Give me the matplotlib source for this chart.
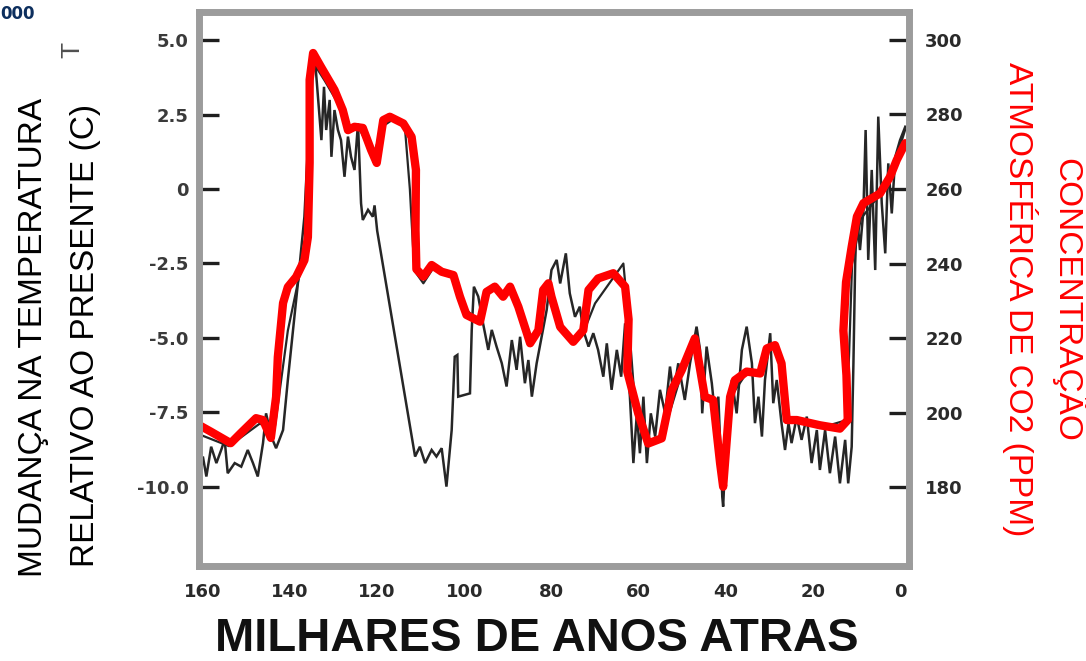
import matplotlib
matplotlib.use('Agg')
import matplotlib.pyplot as plt
from matplotlib import font_manager

# Vostok-style record: temperature (black) and CO2 (red), ages in thousands of years
temp_age = [160.6, 160.0, 159.2, 158.1, 156.9, 155.8, 155.0, 154.3, 152.7, 151.2,
            149.7, 148.5, 147.4, 146.2, 145.5, 144.3, 143.2, 141.6, 140.5, 139.3,
            138.2, 136.7, 135.9, 134.7, 134.2, 133.6, 132.8, 132.2, 131.7, 130.9,
            130.5, 129.8, 129.0, 128.3, 127.5, 126.7, 126.0, 125.2, 124.4, 123.7,
            123.3, 122.1, 121.0, 120.6, 120.0, 111.3, 110.2, 109.0, 107.5, 106.4,
            105.2, 104.1, 102.9, 102.2, 101.6, 101.4, 98.7, 98.3, 97.8, 96.8,
            95.7, 94.5, 93.7, 92.6, 91.4, 90.3, 89.1, 88.0, 87.2, 86.1,
            85.3, 84.5, 83.4, 81.1, 80.0, 78.8, 78.0, 76.7, 75.8, 74.6,
            73.5, 72.7, 71.5, 70.4, 69.3, 68.1, 67.3, 66.2, 65.0, 64.0,
            63.1, 62.0, 61.2, 60.4, 59.7, 58.9, 58.1, 57.2, 56.2, 55.1,
            53.9, 52.8, 52.0, 50.9, 49.4, 48.2, 46.7, 45.9, 45.4, 44.4,
            43.2, 42.5, 41.7, 40.8, 40.6, 39.8, 38.6, 37.5, 36.3, 35.2,
            34.0, 33.3, 32.5, 31.7, 31.0, 29.8, 29.1, 28.3, 27.2, 26.4,
            25.6, 24.9, 23.7, 22.6, 21.4, 20.3, 19.1, 18.4, 17.2, 16.1,
            14.9, 13.8, 12.6, 11.9, 11.1, 10.7, 10.3, 9.9, 9.2, 8.4,
            7.9, 7.3, 6.5, 5.7, 5.0, 4.2, 3.4, 2.7, 1.9, 1.1,
            0.0, -1.2]
temp_val = [-9.4, -8.98, -9.65, -8.65, -9.2, -8.76, -8.42, -9.54, -9.2, -9.32,
            -8.76, -9.2, -9.65, -8.53, -7.53, -8.31, -8.7, -8.09, -6.41, -4.73,
            -3.17, -0.93, 1.42, 4.1, 4.22, 3.1, 1.64, 3.43, 1.98, 2.99,
            1.08, 2.65, 1.98, 1.64, 0.41, 1.76, 1.08, 0.64, 2.2, -0.48,
            -1.04, -0.7, -0.93, -0.55, -1.4, -8.98, -8.65, -9.2, -8.76, -8.98,
            -8.7, -9.99, -8.09, -5.63, -5.57, -6.97, -6.86, -4.73, -3.28, -3.61,
            -4.51, -5.4, -4.73, -5.29, -5.85, -6.63, -5.07, -6.07, -4.96, -6.52,
            -5.74, -6.97, -5.85, -4.06, -2.72, -2.38, -3.17, -2.16, -3.5, -4.29,
            -3.95, -4.73, -5.29, -4.84, -5.4, -6.3, -5.18, -6.74, -5.4, -6.3,
            -4.51, -6.97, -9.2, -7.53, -8.87, -6.97, -9.2, -7.53, -8.31, -6.74,
            -7.53, -5.96, -6.86, -5.85, -7.08, -5.85, -4.62, -5.4, -7.53, -5.29,
            -6.52, -7.53, -6.97, -10.33, -10.66, -8.09, -6.41, -7.53, -5.4, -4.62,
            -5.85, -7.86, -6.97, -8.31, -6.41, -4.84, -7.19, -6.41, -7.86, -8.76,
            -7.86, -8.53, -7.64, -8.42, -7.64, -9.2, -8.09, -9.43, -8.09, -9.54,
            -8.31, -9.88, -8.42, -9.88, -8.65, -5.85, -2.49, -0.82, -2.05, -0.7,
            1.98, -2.38, 0.64, -2.72, 2.43, -0.48, -2.16, 0.86, -0.82, 1.08,
            1.64, 2.09]

# original thin CO2 trace (mostly hidden under the red one)
trace_age = [160.5, 154.0, 147.0, 143.5, 140.5, 138.0, 136.5, 135.6, 134.7, 132.0,
             129.0, 127.0, 124.0, 121.0, 118.5, 116.0, 113.6, 112.5, 111.8, 111.4,
             109.4, 107.0, 104.0, 102.0, 100.0, 97.0, 95.0, 93.0, 91.0, 89.5,
             87.5, 85.0, 83.0, 81.8, 80.5, 78.0, 75.0, 72.5, 70.0, 63.5,
             62.3, 61.0, 58.0, 54.7, 50.0, 47.1, 44.8, 42.9, 40.6, 39.0,
             35.0, 32.0, 30.6, 28.7, 27.2, 26.0, 18.0, 12.2, 11.0, 9.0,
             5.0, 2.0, -1.2]
trace_val = [194, 191, 197, 196, 222, 236, 244, 286, 294, 289,
             283, 277, 276, 269, 277, 279, 276, 260, 245, 238,
             234.7, 239, 238, 236, 228, 225, 231, 234, 231, 234,
             229, 220, 222, 232, 234, 223, 219, 222, 229.3, 240,
             225, 205, 192, 193, 211, 219, 204, 203, 181, 204,
             211, 210, 217, 218, 213, 198, 196, 198, 240, 252,
             258, 264, 276]

co2_age = [160.8, 158.2, 153.6, 151.3, 147.8, 146.2, 144.4, 143.2, 142.8, 141.6,
           140.5, 138.6, 136.7, 135.9, 135.5, 135.5, 134.7, 132.9, 129.8, 127.9,
           126.7, 125.2, 123.3, 121.4, 120.1, 118.6, 117.1, 114.0, 112.1, 111.1,
           111.2, 111.0, 109.4, 107.5, 105.2, 102.5, 101.0, 99.5, 96.4, 94.9,
           93.0, 91.1, 89.5, 87.6, 84.9, 83.0, 81.9, 80.7, 80.0, 78.0,
           75.0, 72.7, 71.5, 69.3, 65.8, 63.1, 62.3, 62.6, 60.1, 57.8,
           54.7, 52.4, 50.1, 47.1, 44.8, 42.9, 41.3, 40.6, 39.0, 37.9,
           35.2, 32.1, 30.6, 28.7, 27.2, 26.0, 23.7, 18.4, 13.8, 12.0,
           12.3, 13.0, 12.4, 11.1, 9.9, 8.4, 4.6, 2.3, 0.75, -1.2]
co2_val = [196.6, 194.9, 191.8, 194.5, 198.5, 198.0, 193.2, 204.2, 214.9, 229.4,
           233.7, 236.4, 240.9, 247.1, 267.0, 289.3, 296.5, 292.8, 286.6, 281.2,
           275.8, 276.7, 276.4, 270.5, 267.0, 278.5, 279.4, 277.6, 274.0, 265.1,
           249.0, 238.5, 236.5, 239.6, 237.8, 236.9, 231.1, 226.2, 224.4, 232.4,
           233.8, 231.1, 233.8, 228.4, 218.6, 222.1, 232.9, 234.7, 231.1, 223.0,
           219.0, 222.1, 232.9, 236.0, 237.4, 233.8, 225.0, 211.0, 199.8, 191.7,
           193.1, 206.0, 211.4, 219.9, 204.2, 203.4, 186.4, 180.1, 204.2, 208.7,
           211.0, 210.5, 217.2, 218.1, 213.2, 198.0, 198.0, 196.6, 195.7, 198.0,
           210.0, 222.0, 235.0, 244.5, 252.6, 256.2, 258.8, 263.3, 267.8, 272.3]

x_ticks = [160, 140, 120, 100, 80, 60, 40, 20, 0]
t_ticks = [5.0, 2.5, 0, -2.5, -5.0, -7.5, -10.0]
t_labels = ['5.0', '2.5', '0', '-2.5', '-5.0', '-7.5', '-10.0']
c_ticks = [300, 280, 260, 240, 220, 200, 180]

names = {f.name for f in font_manager.fontManager.ttflist}
if 'Liberation Sans Narrow' in names:
    lab_font, lab_size = 'Liberation Sans Narrow', 29
else:
    lab_font, lab_size = 'Liberation Sans', 24

fig = plt.figure(figsize=(10.86, 6.61), dpi=100)
ax = fig.add_axes([0.1828, 0.1430, 0.6538, 0.8388])
ax2 = ax.twinx()

ax.plot(temp_age, temp_val, color='#262626', lw=1.8, solid_joinstyle='miter')
ax2.plot(trace_age, trace_val, color='#262626', lw=1.6)
ax2.plot(co2_age, co2_val, color='#ff0000', lw=6, solid_capstyle='round',
         solid_joinstyle='round')

ax.set_xlim(161.0, -1.95)
ax.set_ylim(-12.67, 5.94)
ax2.set_ylim(158.7, 307.5)

tick_font = dict(family='DejaVu Sans', weight='bold', size=13)
ax.set_xticks(x_ticks)
ax.set_xticklabels([str(v) for v in x_ticks], color='#2a2a2a', **tick_font)
ax.tick_params(axis='x', length=0, pad=12)
ax.set_yticks(t_ticks)
ax.set_yticklabels(t_labels, color='#3a3a3a', **tick_font)
ax.tick_params(axis='y', direction='in', length=14.4, width=2.4, color='#1e1e1e', pad=7)
ax2.set_yticks(c_ticks)
ax2.set_yticklabels([str(v) for v in c_ticks], color='#2a2a2a', **tick_font)
ax2.tick_params(axis='y', direction='in', length=14.4, width=2.4, color='#1e1e1e', pad=12)

for s in ax.spines.values():
    s.set_visible(False)
for s in ax2.spines.values():
    s.set_color('#9c9c9c')
    s.set_linewidth(5)

# axis titles
fig.text(34 / 1086, 1 - 337 / 661, 'MUDANÇA NA TEMPERATURA', rotation=90,
         ha='center', va='center', family=lab_font, size=lab_size, color='black')
fig.text(86 / 1086, 1 - 335 / 661, 'RELATIVO AO PRESENTE (C)', rotation=90,
         ha='center', va='center', family=lab_font, size=lab_size, color='black')
fig.text(1068 / 1086, 1 - 300 / 661, 'CONCENTRAÇÃO', rotation=270,
         ha='center', va='center', family=lab_font, size=lab_size, color='#ff0000')
fig.text(1020 / 1086, 1 - 299 / 661, 'ATMOSFÉRICA DE CO2 (PPM)', rotation=270,
         ha='center', va='center', family=lab_font, size=lab_size, color='#ff0000')
fig.text(537 / 1086, 10 / 661, 'MILHARES DE ANOS ATRAS', ha='center', va='baseline',
         family='Liberation Sans', weight='bold', size=34, color='#111111')

# leftovers from the source image
fig.text(0, 1 - 14 / 661, '000', ha='left', va='center',
         family='DejaVu Sans', weight='bold', size=12, color='#0d2f5e')
fig.text(72 / 1086, 1 - 50 / 661, 'T', rotation=90, ha='center', va='center',
         family='Liberation Sans', size=19, color='#505050')

fig.savefig('out.png', dpi=100)
